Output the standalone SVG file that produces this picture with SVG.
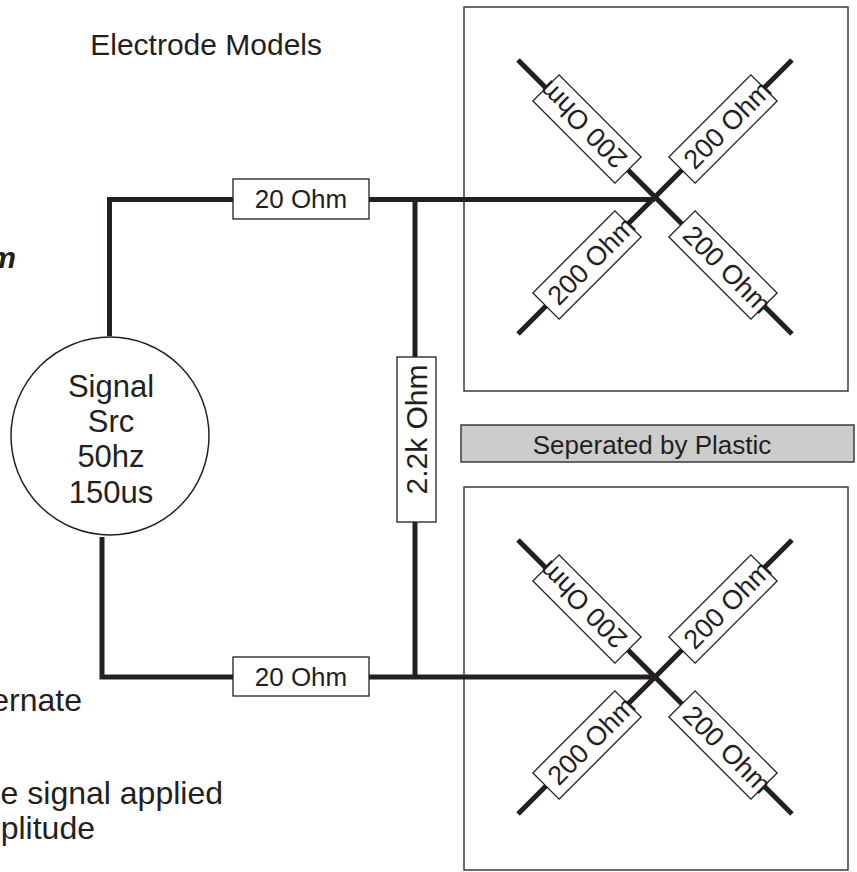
<svg xmlns="http://www.w3.org/2000/svg" width="857" height="872" viewBox="0 0 857 872">
<style>
.w{fill:none;stroke:#231f20;stroke-width:5;stroke-linecap:butt;stroke-linejoin:miter}
.r{fill:#fff;stroke:#231f20;stroke-width:1.3}
.box{fill:#fff;stroke:#3a3a3a;stroke-width:1.5}
.t{font-family:"Liberation Sans",Arial,sans-serif;fill:#231f20}
.rt{font-size:27px;text-anchor:middle}
</style>
<rect width="857" height="872" fill="#fff"/>
<g id="texts">
<text class="t" x="322" y="55" font-size="30" text-anchor="end">Electrode Models</text>
<text class="t" x="16" y="268" font-size="30" font-weight="bold" font-style="italic" text-anchor="end">m</text>
<text class="t" x="82" y="711" font-size="32" text-anchor="end">ernate</text>
<text class="t" x="223" y="804" font-size="32" text-anchor="end">e signal applied</text>
<text class="t" x="95" y="839" font-size="32" text-anchor="end">plitude</text>
</g>
<g id="electrode-box-top"><rect class="box" x="464" y="7" width="384" height="384"/></g>
<g id="electrode-box-bottom"><rect class="box" x="464" y="487" width="384" height="383"/></g>
<g id="separator">
<rect x="461" y="425" width="393" height="37" fill="#cccccc" stroke="#3a3a3a" stroke-width="1.5"/>
<text class="t" x="652" y="454" font-size="26" text-anchor="middle">Seperated by Plastic</text>
</g>
<g id="connectors">
<path class="w" d="M109.5,336 V199.5 H233"/>
<path class="w" d="M369,199.5 H655"/>
<path class="w" d="M415,199.5 V357"/>
<path class="w" d="M415,522 V677"/>
<path class="w" d="M102,537 V677 H233"/>
<path class="w" d="M369,677 H655"/>
<path class="w" d="M518,60 L792,334 M792,60 L518,334"/>
<path class="w" d="M518,540 L792,814 M792,540 L518,814"/>
</g>
<g id="signal-source">
<circle cx="110" cy="436" r="99" fill="#fff" stroke="#231f20" stroke-width="1.5"/>
<text class="t" font-size="31" text-anchor="middle"><tspan x="111" y="397">Signal</tspan><tspan x="111" y="432">Src</tspan><tspan x="111" y="467">50hz</tspan><tspan x="111" y="503">150us</tspan></text>
</g>
<g id="r20-top">
<rect class="r" x="233" y="179" width="136" height="40"/>
<text class="t" x="301" y="208" font-size="26" text-anchor="middle">20 Ohm</text>
</g>
<g id="r20-bottom">
<rect class="r" x="233" y="657" width="136" height="39"/>
<text class="t" x="301" y="686" font-size="26" text-anchor="middle">20 Ohm</text>
</g>
<g id="r2k2" transform="translate(416.5,439.5) rotate(-90)">
<rect class="r" x="-82.5" y="-19.5" width="165" height="39"/>
<text class="t" x="10" y="10" font-size="30" text-anchor="middle">2.2k Ohm</text>
</g>
<g id="r200-top-nw" transform="translate(587,129) rotate(-135)">
<rect class="r" x="-58" y="-18.5" width="116" height="37"/>
<text class="t rt" x="6" y="9.5">200 Ohm</text>
</g>
<g id="r200-top-ne" transform="translate(723,129) rotate(-45)">
<rect class="r" x="-58" y="-18.5" width="116" height="37"/>
<text class="t rt" x="6" y="9.5">200 Ohm</text>
</g>
<g id="r200-top-sw" transform="translate(587,265) rotate(-45)">
<rect class="r" x="-58" y="-18.5" width="116" height="37"/>
<text class="t rt" x="6" y="9.5">200 Ohm</text>
</g>
<g id="r200-top-se" transform="translate(723,265) rotate(45)">
<rect class="r" x="-58" y="-18.5" width="116" height="37"/>
<text class="t rt" x="6" y="9.5">200 Ohm</text>
</g>
<g id="r200-bot-nw" transform="translate(587,609) rotate(-135)">
<rect class="r" x="-58" y="-18.5" width="116" height="37"/>
<text class="t rt" x="6" y="9.5">200 Ohm</text>
</g>
<g id="r200-bot-ne" transform="translate(723,609) rotate(-45)">
<rect class="r" x="-58" y="-18.5" width="116" height="37"/>
<text class="t rt" x="6" y="9.5">200 Ohm</text>
</g>
<g id="r200-bot-sw" transform="translate(587,745) rotate(-45)">
<rect class="r" x="-58" y="-18.5" width="116" height="37"/>
<text class="t rt" x="6" y="9.5">200 Ohm</text>
</g>
<g id="r200-bot-se" transform="translate(723,745) rotate(45)">
<rect class="r" x="-58" y="-18.5" width="116" height="37"/>
<text class="t rt" x="6" y="9.5">200 Ohm</text>
</g>
</svg>
